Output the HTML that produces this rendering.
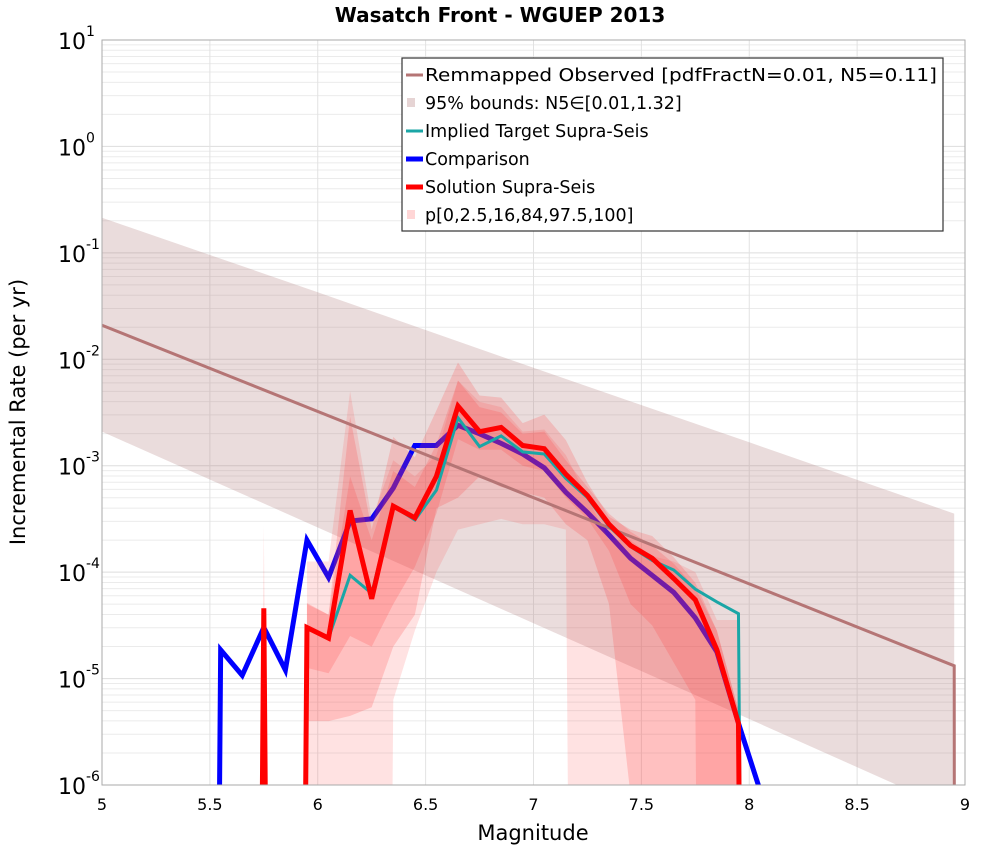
<!DOCTYPE html>
<html><head><meta charset="utf-8"><style>
html,body{margin:0;background:#fff;overflow:hidden;width:1000px;height:850px;}
svg{display:block;font-family:"DejaVu Sans","Liberation Sans",sans-serif;}
</style></head><body>
<svg id="chart" width="1000" height="850" viewBox="0 0 1000 850">
<text x="500" y="22" text-anchor="middle" font-size="20" font-weight="bold">Wasatch Front - WGUEP 2013</text>
<text transform="translate(25,412) rotate(-90)" text-anchor="middle" font-size="21">Incremental Rate (per yr)</text>
<text x="533" y="840" text-anchor="middle" font-size="21">Magnitude</text>
<defs><clipPath id="pc"><rect x="102" y="40" width="863" height="745"/></clipPath></defs>
<g id="grid"></g>
<g id="marks" clip-path="url(#pc)"></g>
<rect x="102" y="40" width="863" height="745" fill="none" stroke="#aaa" stroke-width="1"/>
<g id="ticks"></g>
<g>
<rect x="402" y="58" width="541" height="173" fill="#fff" stroke="#333" stroke-width="1.2"/>
<g font-size="17.5">
<g><line x1="406" y1="75" x2="423" y2="75" stroke="#b57575" stroke-width="3"/><text x="425" y="81" textLength="512" lengthAdjust="spacingAndGlyphs">Remmapped Observed [pdfFractN=0.01, N5=0.11]</text></g>
<g><rect x="407" y="98" width="8" height="9" fill="#e6d4d4"/><text x="425" y="109">95% bounds: N5∈[0.01,1.32]</text></g>
<g><line x1="406" y1="131" x2="423" y2="131" stroke="#1aa6a6" stroke-width="3"/><text x="425" y="137">Implied Target Supra-Seis</text></g>
<g><line x1="406" y1="159" x2="423" y2="159" stroke="#0000ff" stroke-width="5"/><text x="425" y="165">Comparison</text></g>
<g><line x1="406" y1="187" x2="423" y2="187" stroke="#ff0000" stroke-width="5"/><text x="425" y="193">Solution Supra-Seis</text></g>
<g><rect x="407" y="210" width="8" height="9" fill="#ffd6d6"/><text x="425" y="221">p[0,2.5,16,84,97.5,100]</text></g>
</g></g>
</svg>
<script>
// data (log10 of rate); -30 means zero rate
const binStart = 5.45;
const comparisonLog = [-30,-4.73,-4.97,-4.52,-4.92,-3.70,-4.05,-3.52,-3.50,-3.21,-2.81,-2.81,-2.62,-2.70,-2.79,-2.89,-3.02,-3.25,-3.44,-3.65,-3.87,-4.03,-4.19,-4.43,-4.75,-5.42,-6.05];
const solutionLog = [-30,-30,-30,-4.34,-30,-4.52,-4.62,-3.42,-4.25,-3.38,-3.49,-3.10,-2.44,-2.68,-2.64,-2.81,-2.84,-3.08,-3.28,-3.55,-3.75,-3.87,-4.06,-4.26,-4.73,-5.42,-30];
const targetStart = 5.95;
const targetLog = [-4.52,-4.62,-4.03,-4.20,-3.38,-3.51,-3.23,-2.55,-2.82,-2.72,-2.87,-2.89,-3.12,-3.30,-3.57,-3.76,-3.89,-3.98,-4.16,-4.28,-4.39,-30];
// percentile bands, bins 5.95..7.95
const bandStart = 5.95;
const p0Log   = [-30,-30,-30,-30,-5.2,-4.55,-4.0,-3.6,-3.55,-3.5,-3.55,-3.55,-3.6,-30,-30,-30,-30,-30,-30,-30,-30];
const p100Log = [-3.9,-3.9,-2.3,-3.5,-2.95,-3.1,-2.9,-2.2,-2.4,-2.45,-2.68,-2.66,-2.9,-3.3,-3.7,-3.7,-3.85,-3.9,-4.0,-4.45,-4.45];
const p2Log   = [-5.4,-5.4,-5.35,-5.27,-4.7,-4.4,-3.4,-3.3,-3.1,-3.2,-3.25,-3.3,-3.55,-3.7,-4.3,-6.1,-30,-30,-30,-30,-30];
const p97Log  = [-4.29,-4.4,-2.54,-3.6,-2.73,-2.92,-2.48,-2.03,-2.34,-2.36,-2.6,-2.52,-2.76,-3.16,-3.48,-3.6,-3.66,-3.86,-4.1,-4.55,-5.3];
const p16Log  = [-4.9,-4.95,-4.6,-4.7,-4.3,-3.95,-3.45,-2.75,-2.85,-2.85,-3.0,-3.05,-3.3,-3.5,-3.8,-4.3,-4.5,-4.85,-5.2,-30,-30];
const p84Log  = [-4.3,-4.4,-3.1,-3.7,-3.05,-3.2,-2.8,-2.2,-2.45,-2.5,-2.7,-2.68,-2.95,-3.2,-3.45,-3.62,-3.75,-3.92,-4.15,-4.55,-5.3];
// observed GR & 95% bounds
const obsMag = [5.0, 8.95];
const obsLog = [-1.68, -4.88];
const boundMag = [5.0, 6.0, 7.0, 8.0, 8.95];
const boundUpperLog = [-0.67, -1.37, -2.08, -2.78, -3.45];
const boundLowerLog = [-2.68, -3.58, -4.48, -5.38, -6.24];
const xTicks = [5,5.5,6,6.5,7,7.5,8,8.5,9];
const xTickLabels = ["5","5.5","6","6.5","7","7.5","8","8.5","9"];
const yDecades = [1,0,-1,-2,-3,-4,-5,-6];

const NS="http://www.w3.org/2000/svg";
const X=m=>102+(m-5)*215.75;
const Y=l=>785-(l+6)*106.43;
function mk(tag,attrs,parent){const e=document.createElementNS(NS,tag);for(const k in attrs)e.setAttribute(k,attrs[k]);parent.appendChild(e);return e;}
const grid=document.getElementById('grid'),marks=document.getElementById('marks'),ticks=document.getElementById('ticks');
for(let d=-6;d<1;d++){for(let k=1;k<=9;k++){const y=Y(d+Math.log10(k));const l=mk('line',{x1:102,x2:965,y1:y,y2:y,stroke:k==1?'#ddd':'#ebebeb','stroke-width':1},grid);

}}
for(const t of xTicks){const l=mk('line',{x1:X(t),x2:X(t),y1:40,y2:785,stroke:'#e2e2e2','stroke-width':1},grid);

}
xTicks.forEach((t,i)=>{const tx=mk('text',{x:X(t),y:810,'text-anchor':'middle','font-size':16},ticks);tx.textContent=xTickLabels[i];

});
for(const d of yDecades){const g=mk('text',{x:58,y:Y(d)+9,'font-size':22},ticks);


g.innerHTML='10<tspan dy="-13" font-size="14">'+d+'</tspan>';}
function pts(start,arr){return arr.map((v,i)=>[X(start+i*0.1),Y(v)]);}
function band(mags,lo,hi,fill,name){const up=mags.map((m,i)=>X(m)+','+Y(hi[i]));const dn=mags.map((m,i)=>X(m)+','+Y(lo[i])).reverse();
const p=mk('polygon',{points:up.concat(dn).join(' '),fill:fill},marks);

}
function line(P,stroke,w,name){const p=mk('polyline',{points:P.map(q=>q.join(',')).join(' '),fill:'none',stroke:stroke,'stroke-width':w,'stroke-linejoin':'miter'},marks);

}
band(boundMag.concat([8.951]),boundLowerLog.concat([-30]),boundUpperLog.concat([-30]),'rgba(180,130,130,0.28)','bounds-band');
line(pts(binStart,comparisonLog),'#0000ff',5,'comparison-line');
const bmags=p0Log.map((_,i)=>bandStart+i*0.1);
band(bmags,p0Log,p100Log,'rgba(255,60,60,0.15)','band-p0-p100');
band(bmags,p2Log,p97Log,'rgba(255,60,60,0.2)','band-p2.5-p97.5');
band(bmags,p16Log,p84Log,'rgba(255,60,60,0.2)','band-p16-p84');
band([5.74,5.75,5.76],[-30,-30,-30],[-6,-3.55,-6],'rgba(255,60,60,0.15)','band-spike');
line(obsMag.map((m,i)=>[X(m),Y(obsLog[i])]).concat([[X(8.96),Y(-30)]]),'#b57575',3,'observed-line');
line(pts(targetStart,targetLog),'#1aa6a6',3,'implied-target-line');
line(pts(binStart,solutionLog),'#ff0000',5,'solution-line');
</script>
</body></html>
